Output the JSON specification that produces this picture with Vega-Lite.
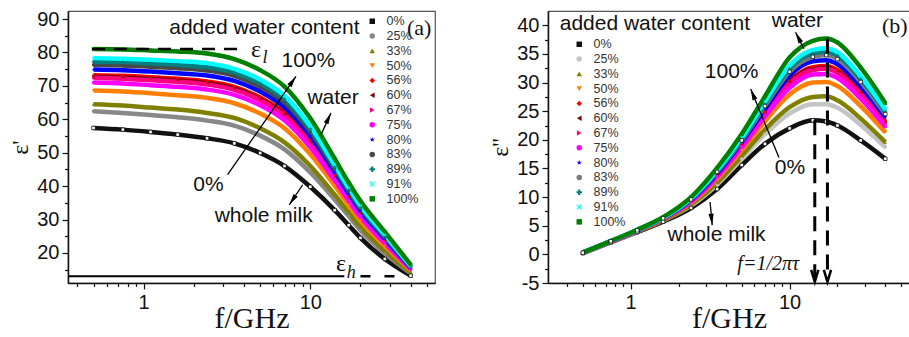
{
"$schema":"https://vega.github.io/schema/vega-lite/v6.json",
"padding":{"left":8,"top":8,"right":0,"bottom":0},
"spacing":52,
"resolve":{"scale":{"color":"independent","shape":"independent","stroke":"independent"},"legend":{"color":"independent","shape":"independent","stroke":"independent"}},
"datasets":{"d":[
{"s":"0%","f":0.5,"e1":57.4,"e2":0.2},{"s":"0%","f":0.75,"e1":56.9,"e2":2.1},{"s":"0%","f":1.1,"e1":56.2,"e2":3.9},{"s":"0%","f":1.6,"e1":55.4,"e2":5.7},{"s":"0%","f":2.4,"e1":54.3,"e2":8.1},{"s":"0%","f":3.5,"e1":52.8,"e2":11.4},{"s":"0%","f":5,"e1":49.9,"e2":15.6},{"s":"0%","f":7,"e1":46.0,"e2":19.3},{"s":"0%","f":10,"e1":39.8,"e2":22.0},{"s":"0%","f":14,"e1":32.8,"e2":23.4},{"s":"0%","f":17,"e1":28.3,"e2":23.2},{"s":"0%","f":20,"e1":24.5,"e2":22.5},{"s":"0%","f":28,"e1":18.2,"e2":19.9},{"s":"0%","f":40,"e1":13.2,"e2":16.7},
{"s":"25%","f":0.5,"e1":62.4,"e2":0.2},{"s":"25%","f":0.75,"e1":61.9,"e2":2.1},{"s":"25%","f":1.1,"e1":61.3,"e2":4.0},{"s":"25%","f":1.6,"e1":60.6,"e2":5.9},{"s":"25%","f":2.4,"e1":59.6,"e2":8.5},{"s":"25%","f":3.5,"e1":58.1,"e2":12.2},{"s":"25%","f":5,"e1":55.1,"e2":16.7},{"s":"25%","f":7,"e1":51.0,"e2":21.0},{"s":"25%","f":10,"e1":44.1,"e2":24.6},{"s":"25%","f":14,"e1":36.0,"e2":26.2},{"s":"25%","f":17,"e1":31.0,"e2":26.2},{"s":"25%","f":20,"e1":26.8,"e2":25.6},{"s":"25%","f":28,"e1":19.9,"e2":22.6},{"s":"25%","f":40,"e1":13.9,"e2":18.7},
{"s":"33%","f":0.5,"e1":64.5,"e2":0.2},{"s":"33%","f":0.75,"e1":64.1,"e2":2.2},{"s":"33%","f":1.1,"e1":63.5,"e2":4.0},{"s":"33%","f":1.6,"e1":62.9,"e2":5.9},{"s":"33%","f":2.4,"e1":61.9,"e2":8.7},{"s":"33%","f":3.5,"e1":60.4,"e2":12.5},{"s":"33%","f":5,"e1":57.3,"e2":17.2},{"s":"33%","f":7,"e1":53.1,"e2":21.8},{"s":"33%","f":10,"e1":46.0,"e2":25.7},{"s":"33%","f":14,"e1":37.4,"e2":27.5},{"s":"33%","f":17,"e1":32.1,"e2":27.6},{"s":"33%","f":20,"e1":27.8,"e2":26.9},{"s":"33%","f":28,"e1":20.6,"e2":23.7},{"s":"33%","f":40,"e1":14.2,"e2":19.6},
{"s":"50%","f":0.5,"e1":68.6,"e2":0.3},{"s":"50%","f":0.75,"e1":68.3,"e2":2.2},{"s":"50%","f":1.1,"e1":67.8,"e2":4.1},{"s":"50%","f":1.6,"e1":67.2,"e2":6.1},{"s":"50%","f":2.4,"e1":66.4,"e2":9.0},{"s":"50%","f":3.5,"e1":64.8,"e2":13.2},{"s":"50%","f":5,"e1":61.7,"e2":18.2},{"s":"50%","f":7,"e1":57.3,"e2":23.2},{"s":"50%","f":10,"e1":49.5,"e2":27.9},{"s":"50%","f":14,"e1":40.1,"e2":30.0},{"s":"50%","f":17,"e1":34.3,"e2":30.1},{"s":"50%","f":20,"e1":29.7,"e2":29.4},{"s":"50%","f":28,"e1":22.1,"e2":25.9},{"s":"50%","f":40,"e1":14.8,"e2":21.3},
{"s":"56%","f":0.5,"e1":73.2,"e2":0.3},{"s":"56%","f":0.75,"e1":73.0,"e2":2.2},{"s":"56%","f":1.1,"e1":72.6,"e2":4.2},{"s":"56%","f":1.6,"e1":72.1,"e2":6.2},{"s":"56%","f":2.4,"e1":71.3,"e2":9.4},{"s":"56%","f":3.5,"e1":69.7,"e2":13.9},{"s":"56%","f":5,"e1":66.5,"e2":19.2},{"s":"56%","f":7,"e1":62.0,"e2":24.9},{"s":"56%","f":10,"e1":53.5,"e2":30.3},{"s":"56%","f":14,"e1":43.1,"e2":32.7},{"s":"56%","f":17,"e1":36.8,"e2":32.9},{"s":"56%","f":20,"e1":31.9,"e2":32.2},{"s":"56%","f":28,"e1":23.6,"e2":28.4},{"s":"56%","f":40,"e1":15.4,"e2":23.2},
{"s":"60%","f":0.5,"e1":72.7,"e2":0.3},{"s":"60%","f":0.75,"e1":72.5,"e2":2.2},{"s":"60%","f":1.1,"e1":72.1,"e2":4.2},{"s":"60%","f":1.6,"e1":71.6,"e2":6.2},{"s":"60%","f":2.4,"e1":70.8,"e2":9.3},{"s":"60%","f":3.5,"e1":69.2,"e2":13.8},{"s":"60%","f":5,"e1":66.0,"e2":19.1},{"s":"60%","f":7,"e1":61.5,"e2":24.7},{"s":"60%","f":10,"e1":53.1,"e2":30.1},{"s":"60%","f":14,"e1":42.8,"e2":32.4},{"s":"60%","f":17,"e1":36.6,"e2":32.6},{"s":"60%","f":20,"e1":31.7,"e2":31.9},{"s":"60%","f":28,"e1":23.5,"e2":28.2},{"s":"60%","f":40,"e1":15.4,"e2":23.0},
{"s":"67%","f":0.5,"e1":72.4,"e2":0.3},{"s":"67%","f":0.75,"e1":72.1,"e2":2.2},{"s":"67%","f":1.1,"e1":71.7,"e2":4.2},{"s":"67%","f":1.6,"e1":71.2,"e2":6.2},{"s":"67%","f":2.4,"e1":70.4,"e2":9.3},{"s":"67%","f":3.5,"e1":68.8,"e2":13.8},{"s":"67%","f":5,"e1":65.7,"e2":19.0},{"s":"67%","f":7,"e1":61.1,"e2":24.6},{"s":"67%","f":10,"e1":52.8,"e2":29.9},{"s":"67%","f":14,"e1":42.6,"e2":32.2},{"s":"67%","f":17,"e1":36.4,"e2":32.4},{"s":"67%","f":20,"e1":31.5,"e2":31.7},{"s":"67%","f":28,"e1":23.3,"e2":28.0},{"s":"67%","f":40,"e1":15.3,"e2":22.9},
{"s":"75%","f":0.5,"e1":71.0,"e2":0.3},{"s":"75%","f":0.75,"e1":70.7,"e2":2.2},{"s":"75%","f":1.1,"e1":70.2,"e2":4.1},{"s":"75%","f":1.6,"e1":69.7,"e2":6.2},{"s":"75%","f":2.4,"e1":68.9,"e2":9.2},{"s":"75%","f":3.5,"e1":67.3,"e2":13.5},{"s":"75%","f":5,"e1":64.2,"e2":18.7},{"s":"75%","f":7,"e1":59.7,"e2":24.1},{"s":"75%","f":10,"e1":51.6,"e2":29.1},{"s":"75%","f":14,"e1":41.7,"e2":31.4},{"s":"75%","f":17,"e1":35.6,"e2":31.5},{"s":"75%","f":20,"e1":30.8,"e2":30.8},{"s":"75%","f":28,"e1":22.9,"e2":27.2},{"s":"75%","f":40,"e1":15.1,"e2":22.3},
{"s":"80%","f":0.5,"e1":74.9,"e2":0.3},{"s":"80%","f":0.75,"e1":74.7,"e2":2.3},{"s":"80%","f":1.1,"e1":74.3,"e2":4.2},{"s":"80%","f":1.6,"e1":73.8,"e2":6.3},{"s":"80%","f":2.4,"e1":73.1,"e2":9.5},{"s":"80%","f":3.5,"e1":71.5,"e2":14.1},{"s":"80%","f":5,"e1":68.3,"e2":19.6},{"s":"80%","f":7,"e1":63.6,"e2":25.4},{"s":"80%","f":10,"e1":55.0,"e2":31.2},{"s":"80%","f":14,"e1":44.2,"e2":33.7},{"s":"80%","f":17,"e1":37.7,"e2":33.9},{"s":"80%","f":20,"e1":32.6,"e2":33.2},{"s":"80%","f":28,"e1":24.2,"e2":29.3},{"s":"80%","f":40,"e1":15.6,"e2":23.9},
{"s":"83%","f":0.5,"e1":76.3,"e2":0.3},{"s":"83%","f":0.75,"e1":76.1,"e2":2.3},{"s":"83%","f":1.1,"e1":75.7,"e2":4.2},{"s":"83%","f":1.6,"e1":75.3,"e2":6.3},{"s":"83%","f":2.4,"e1":74.6,"e2":9.6},{"s":"83%","f":3.5,"e1":73.0,"e2":14.4},{"s":"83%","f":5,"e1":69.7,"e2":19.9},{"s":"83%","f":7,"e1":65.0,"e2":25.9},{"s":"83%","f":10,"e1":56.2,"e2":31.9},{"s":"83%","f":14,"e1":45.1,"e2":34.5},{"s":"83%","f":17,"e1":38.5,"e2":34.8},{"s":"83%","f":20,"e1":33.3,"e2":34.1},{"s":"83%","f":28,"e1":24.7,"e2":30.1},{"s":"83%","f":40,"e1":15.8,"e2":24.5},
{"s":"89%","f":0.5,"e1":77.2,"e2":0.3},{"s":"89%","f":0.75,"e1":77.1,"e2":2.3},{"s":"89%","f":1.1,"e1":76.7,"e2":4.2},{"s":"89%","f":1.6,"e1":76.3,"e2":6.4},{"s":"89%","f":2.4,"e1":75.6,"e2":9.7},{"s":"89%","f":3.5,"e1":74.0,"e2":14.5},{"s":"89%","f":5,"e1":70.7,"e2":20.1},{"s":"89%","f":7,"e1":66.0,"e2":26.3},{"s":"89%","f":10,"e1":57.0,"e2":32.4},{"s":"89%","f":14,"e1":45.7,"e2":35.1},{"s":"89%","f":17,"e1":39.0,"e2":35.4},{"s":"89%","f":20,"e1":33.7,"e2":34.7},{"s":"89%","f":28,"e1":25.0,"e2":30.6},{"s":"89%","f":40,"e1":16.0,"e2":24.9},
{"s":"91%","f":0.5,"e1":78.3,"e2":0.3},{"s":"91%","f":0.75,"e1":78.1,"e2":2.3},{"s":"91%","f":1.1,"e1":77.8,"e2":4.3},{"s":"91%","f":1.6,"e1":77.4,"e2":6.4},{"s":"91%","f":2.4,"e1":76.8,"e2":9.8},{"s":"91%","f":3.5,"e1":75.1,"e2":14.7},{"s":"91%","f":5,"e1":71.9,"e2":20.4},{"s":"91%","f":7,"e1":67.1,"e2":26.7},{"s":"91%","f":10,"e1":57.9,"e2":33.0},{"s":"91%","f":14,"e1":46.4,"e2":35.7},{"s":"91%","f":17,"e1":39.5,"e2":36.0},{"s":"91%","f":20,"e1":34.2,"e2":35.3},{"s":"91%","f":28,"e1":25.4,"e2":31.1},{"s":"91%","f":40,"e1":16.1,"e2":25.3},
{"s":"100%","f":0.5,"e1":81.0,"e2":0.3},{"s":"100%","f":0.75,"e1":80.9,"e2":2.3},{"s":"100%","f":1.1,"e1":80.6,"e2":4.3},{"s":"100%","f":1.6,"e1":80.3,"e2":6.5},{"s":"100%","f":2.4,"e1":79.7,"e2":10.0},{"s":"100%","f":3.5,"e1":78.0,"e2":15.1},{"s":"100%","f":5,"e1":74.7,"e2":21.0},{"s":"100%","f":7,"e1":69.8,"e2":27.6},{"s":"100%","f":10,"e1":60.3,"e2":34.4},{"s":"100%","f":14,"e1":48.2,"e2":37.3},{"s":"100%","f":17,"e1":41.0,"e2":37.7},{"s":"100%","f":20,"e1":35.5,"e2":37.0},{"s":"100%","f":28,"e1":26.3,"e2":32.6},{"s":"100%","f":40,"e1":16.5,"e2":26.4}
]},
"hconcat":[
{
"width":367,"height":272,
"encoding":{
 "x":{"field":"f","type":"quantitative","scale":{"type":"log","domain":[0.3515,56],"nice":false,"zero":false},
  "axis":{"title":"f/GHz","titleFontSize":30,"titlePadding":-9,"values":[0.4,0.5,0.6,0.7,0.8,0.9,1,2,3,4,5,6,7,8,9,10,20,30,40,50],"format":"~g","labelExpr":"datum.value == 1 || datum.value == 10 ? datum.label : ''","labelOverlap":false,"labelFlush":false,"labelPadding":3,"tickSize":{"condition":{"test":"datum.value == 1 || datum.value == 10","value":6},"value":3.5}}},
 "y":{"field":"e1","type":"quantitative","scale":{"domain":[11,92.4],"nice":false,"zero":false},
  "axis":{"title":"ε'","titleFontSize":24,"titlePadding":4,"values":[15,20,25,30,35,40,45,50,55,60,65,70,75,80,85,90],"labelExpr":"datum.value % 10 == 0 ? datum.label : ''","labelOverlap":false,"labelPadding":3,"tickSize":{"condition":{"test":"datum.value % 10 == 0","value":6},"value":3.5}}}
},
"layer":[
 {"data":{"name":"d"},"mark":{"type":"line","strokeWidth":4.5,"interpolate":"monotone"},
  "encoding":{"stroke":{"field":"s","type":"nominal","legend":null,"scale":{"domain":["100%","91%","89%","83%","80%","75%","67%","60%","56%","50%","33%","25%","0%"],"range":["#008000","#00ffff","#008080","#484848","#0000ff","#ff00ff","#ff0080","#800000","#ff0000","#ff8000","#808000","#888888","#111111"]}}}},
 {"data":{"name":"d"},"mark":{"type":"point","size":12,"filled":true,"opacity":1},
  "encoding":{
   "color":{"field":"s","type":"nominal","scale":{"domain":["0%","25%","33%","50%","56%","60%","67%","75%","80%","83%","89%","91%","100%"],"range":["#111111","#888888","#808000","#ff8000","#ff0000","#800000","#ff0080","#ff00ff","#0000ff","#484848","#008080","#00ffff","#008000"]},"legend":{"title":null,"orient":"none","legendX":298,"legendY":4}},
   "shape":{"field":"s","type":"nominal","scale":{"domain":["0%","25%","33%","50%","56%","60%","67%","75%","80%","83%","89%","91%","100%"],"range":["square","circle","triangle-up","triangle-down","diamond","triangle-left","triangle-right","circle","M0,-1L0.224,-0.309L0.951,-0.309L0.363,0.118L0.588,0.809L0,0.382L-0.588,0.809L-0.363,0.118L-0.951,-0.309L-0.224,-0.309Z","circle","cross","M-1,-0.7L-0.7,-1L0,-0.3L0.7,-1L1,-0.7L0.3,0L1,0.7L0.7,1L0,0.3L-0.7,1L-1,0.7L-0.3,0Z","square"]},"legend":{"title":null,"orient":"none","legendX":298,"legendY":4}}
  }},
 {"data":{"name":"d"},"transform":[{"filter":"datum.s == '0%'"}],"mark":{"type":"point","shape":"square","size":12,"fill":"#ffffff","stroke":"#000000","strokeWidth":0.7,"opacity":1}},
 {"data":{"values":[{"f":0.49,"f2":3.66,"e1":81}]},"mark":{"type":"rule","strokeWidth":2.5,"strokeDash":[13,9],"color":"#000"},"encoding":{"x2":{"field":"f2"}}},
 {"data":{"values":[{"f":0.3515,"f2":16,"e1":13.05}]},"mark":{"type":"rule","strokeWidth":2,"color":"#000"},"encoding":{"x2":{"field":"f2"}}},
 {"data":{"values":[{"f":20,"f2":34,"e1":13.05}]},"mark":{"type":"rule","strokeWidth":2.5,"strokeDash":[10,14],"color":"#000"},"encoding":{"x2":{"field":"f2"}}},
 {"data":{"values":[{"f":3.19,"f2":8.2,"e1":43.4,"e1b":72.8},{"f":11.6,"f2":13.3,"e1":55.4,"e1b":61.9},{"f":9.0,"f2":7.48,"e1":40.4,"e1b":34.4}]},"mark":{"type":"rule","strokeWidth":1.3,"color":"#000"},"encoding":{"x2":{"field":"f2"},"y2":{"field":"e1b"}}},
 {"data":{"values":[{"f":8.2,"e1":72.8}]},"mark":{"type":"point","shape":"M0,0L0.45,2L-0.45,2Z","size":130,"filled":true,"color":"#000","opacity":1,"angle":35}},
 {"data":{"values":[{"f":13.3,"e1":61.9}]},"mark":{"type":"point","shape":"M0,0L0.45,2L-0.45,2Z","size":130,"filled":true,"color":"#000","opacity":1,"angle":25}},
 {"data":{"values":[{"f":7.48,"e1":34.4}]},"mark":{"type":"point","shape":"M0,0L0.45,2L-0.45,2Z","size":130,"filled":true,"color":"#000","opacity":1,"angle":214}},
 {"data":{"values":[{"t":"added water content","f":5.3,"e1":87.3}]},"mark":{"type":"text","font":"Liberation Sans","fontSize":21,"color":"#111","align":"center","baseline":"middle"},"encoding":{"text":{"field":"t"}}},
 {"data":{"values":[{"t":"100%","f":9.73,"e1":77.4},{"t":"water","f":13.7,"e1":66.3},{"t":"0%","f":2.45,"e1":40.4},{"t":"whole milk","f":5.25,"e1":31}]},"mark":{"type":"text","font":"Liberation Sans","fontSize":21,"color":"#111","align":"center","baseline":"middle"},"encoding":{"text":{"field":"t"}}},
 {"data":{"values":[{"t":"(a)","f":45,"e1":87.3}]},"mark":{"type":"text","font":"Liberation Serif","fontSize":22,"color":"#111","align":"center","baseline":"middle"},"encoding":{"text":{"field":"t"}}},
 {"data":{"values":[{"t":"ε","f":4.72,"e1":80.8},{"t":"ε","f":15.3,"e1":16.6}]},"mark":{"type":"text","font":"Liberation Serif","fontSize":24,"color":"#111","align":"center","baseline":"middle"},"encoding":{"text":{"field":"t"}}},
 {"data":{"values":[{"t":"l","f":5.35,"e1":78.3},{"t":"h","f":17.6,"e1":13.9}]},"mark":{"type":"text","font":"Liberation Serif","fontSize":18,"fontStyle":"italic","color":"#111","align":"center","baseline":"middle"},"encoding":{"text":{"field":"t"}}}
]
},
{
"width":362,"height":272,
"encoding":{
 "x":{"field":"f","type":"quantitative","scale":{"type":"log","domain":[0.302,57.2],"nice":false,"zero":false},
  "axis":{"title":"f/GHz","titleFontSize":30,"titlePadding":-9,"values":[0.4,0.5,0.6,0.7,0.8,0.9,1,2,3,4,5,6,7,8,9,10,20,30,40,50],"format":"~g","labelExpr":"datum.value == 1 || datum.value == 10 ? datum.label : ''","labelOverlap":false,"labelFlush":false,"labelPadding":3,"tickSize":{"condition":{"test":"datum.value == 1 || datum.value == 10","value":6},"value":3.5}}},
 "y":{"field":"e2","type":"quantitative","scale":{"domain":[-5,42.5],"nice":false,"zero":false},
  "axis":{"title":"ε''","titleFontSize":24,"titlePadding":4,"values":[-5,-2.5,0,2.5,5,7.5,10,12.5,15,17.5,20,22.5,25,27.5,30,32.5,35,37.5,40],"labelExpr":"datum.value % 5 == 0 ? (datum.value < 0 ? '-' + abs(datum.value) : '' + datum.value) : ''","labelOverlap":false,"labelFlush":false,"labelPadding":3,"tickSize":{"condition":{"test":"datum.value % 5 == 0","value":6},"value":3.5}}}
},
"layer":[
 {"data":{"name":"d"},"mark":{"type":"line","strokeWidth":4.5,"interpolate":"monotone"},
  "encoding":{"stroke":{"field":"s","type":"nominal","legend":null,"scale":{"domain":["100%","91%","89%","83%","80%","75%","67%","60%","56%","50%","33%","25%","0%"],"range":["#008000","#00ffff","#008080","#7a7a7a","#0000ff","#ff00ff","#ff0080","#800000","#ff0000","#ff8000","#808000","#c4c4c4","#111111"]}}}},
 {"data":{"name":"d"},"mark":{"type":"point","size":12,"filled":true,"opacity":1},
  "encoding":{
   "color":{"field":"s","type":"nominal","scale":{"domain":["0%","25%","33%","50%","56%","60%","67%","75%","80%","83%","89%","91%","100%"],"range":["#111111","#c4c4c4","#808000","#ff8000","#ff0000","#800000","#ff0080","#ff00ff","#0000ff","#7a7a7a","#008080","#00ffff","#008000"]},"legend":{"title":null,"orient":"none","legendX":25,"legendY":27}},
   "shape":{"field":"s","type":"nominal","scale":{"domain":["0%","25%","33%","50%","56%","60%","67%","75%","80%","83%","89%","91%","100%"],"range":["square","circle","triangle-up","triangle-down","diamond","triangle-left","triangle-right","circle","M0,-1L0.224,-0.309L0.951,-0.309L0.363,0.118L0.588,0.809L0,0.382L-0.588,0.809L-0.363,0.118L-0.951,-0.309L-0.224,-0.309Z","circle","cross","M-1,-0.7L-0.7,-1L0,-0.3L0.7,-1L1,-0.7L0.3,0L1,0.7L0.7,1L0,0.3L-0.7,1L-1,0.7L-0.3,0Z","square"]},"legend":{"title":null,"orient":"none","legendX":25,"legendY":27}}
  }},
 {"data":{"name":"d"},"transform":[{"filter":"datum.s == '0%' || datum.s == '83%'"}],"mark":{"type":"point","shape":"square","size":12,"fill":"#ffffff","stroke":"#000000","strokeWidth":0.7,"opacity":1}},
 {"data":{"values":[{"f":14.4,"e2":23.4,"e2b":-4.7},{"f":17.3,"e2":37.7,"e2b":-4.7}]},"mark":{"type":"rule","strokeWidth":3,"strokeDash":[15,9],"color":"#000"},"encoding":{"y2":{"field":"e2b"}}},
 {"data":{"values":[{"f":14.4,"e2":-4.8},{"f":17.3,"e2":-4.8}]},"mark":{"type":"point","shape":"M-0.6,-2L0,0L0.6,-2","size":144,"filled":false,"color":"#000","strokeWidth":2.5,"opacity":1}},
 {"data":{"values":[{"f":12.3,"f2":10.9,"e2":35.9,"e2b":38.8},{"f":8.57,"f2":5.69,"e2":16.9,"e2b":28.9},{"f":3.16,"f2":3.26,"e2":9.15,"e2b":5.1}]},"mark":{"type":"rule","strokeWidth":1.3,"color":"#000"},"encoding":{"x2":{"field":"f2"},"y2":{"field":"e2b"}}},
 {"data":{"values":[{"f":10.9,"e2":38.8}]},"mark":{"type":"point","shape":"M0,0L0.45,2L-0.45,2Z","size":130,"filled":true,"color":"#000","opacity":1,"angle":333}},
 {"data":{"values":[{"f":5.69,"e2":28.9}]},"mark":{"type":"point","shape":"M0,0L0.45,2L-0.45,2Z","size":130,"filled":true,"color":"#000","opacity":1,"angle":338}},
 {"data":{"values":[{"f":3.26,"e2":5.1}]},"mark":{"type":"point","shape":"M0,0L0.45,2L-0.45,2Z","size":130,"filled":true,"color":"#000","opacity":1,"angle":174}},
 {"data":{"values":[{"t":"added water content","f":1.42,"e2":40.2}]},"mark":{"type":"text","font":"Liberation Sans","fontSize":21,"color":"#111","align":"center","baseline":"middle"},"encoding":{"text":{"field":"t"}}},
 {"data":{"values":[{"t":"water","f":11.2,"e2":40.8},{"t":"100%","f":4.32,"e2":31.85},{"t":"0%","f":10.05,"e2":15.0},{"t":"whole milk","f":3.47,"e2":3.3}]},"mark":{"type":"text","font":"Liberation Sans","fontSize":21,"color":"#111","align":"center","baseline":"middle"},"encoding":{"text":{"field":"t"}}},
 {"data":{"values":[{"t":"(b)","f":45.9,"e2":39.8}]},"mark":{"type":"text","font":"Liberation Serif","fontSize":22,"color":"#111","align":"center","baseline":"middle"},"encoding":{"text":{"field":"t"}}},
 {"data":{"values":[{"t":"f=1/2πτ","f":7.34,"e2":-1.6}]},"mark":{"type":"text","font":"Liberation Serif","fontSize":20,"fontStyle":"italic","color":"#111","align":"center","baseline":"middle"},"encoding":{"text":{"field":"t"}}}
]
}
],
"config":{
 "view":{"stroke":"#555","strokeWidth":1.2},
 "font":"Liberation Sans",
 "axis":{"labelFont":"Liberation Sans","labelFontSize":20,"labelColor":"#111","titleFont":"Liberation Serif","titleFontWeight":"normal","titleColor":"#111","domainColor":"#111","tickColor":"#111","domainWidth":1.5,"tickWidth":1.2,"grid":false},
 "legend":{"labelFont":"Liberation Sans","labelFontSize":12.5,"labelColor":"#333","rowPadding":1.8,"symbolSize":30,"labelOffset":8,"padding":0,"symbolStrokeWidth":1}
}
}
